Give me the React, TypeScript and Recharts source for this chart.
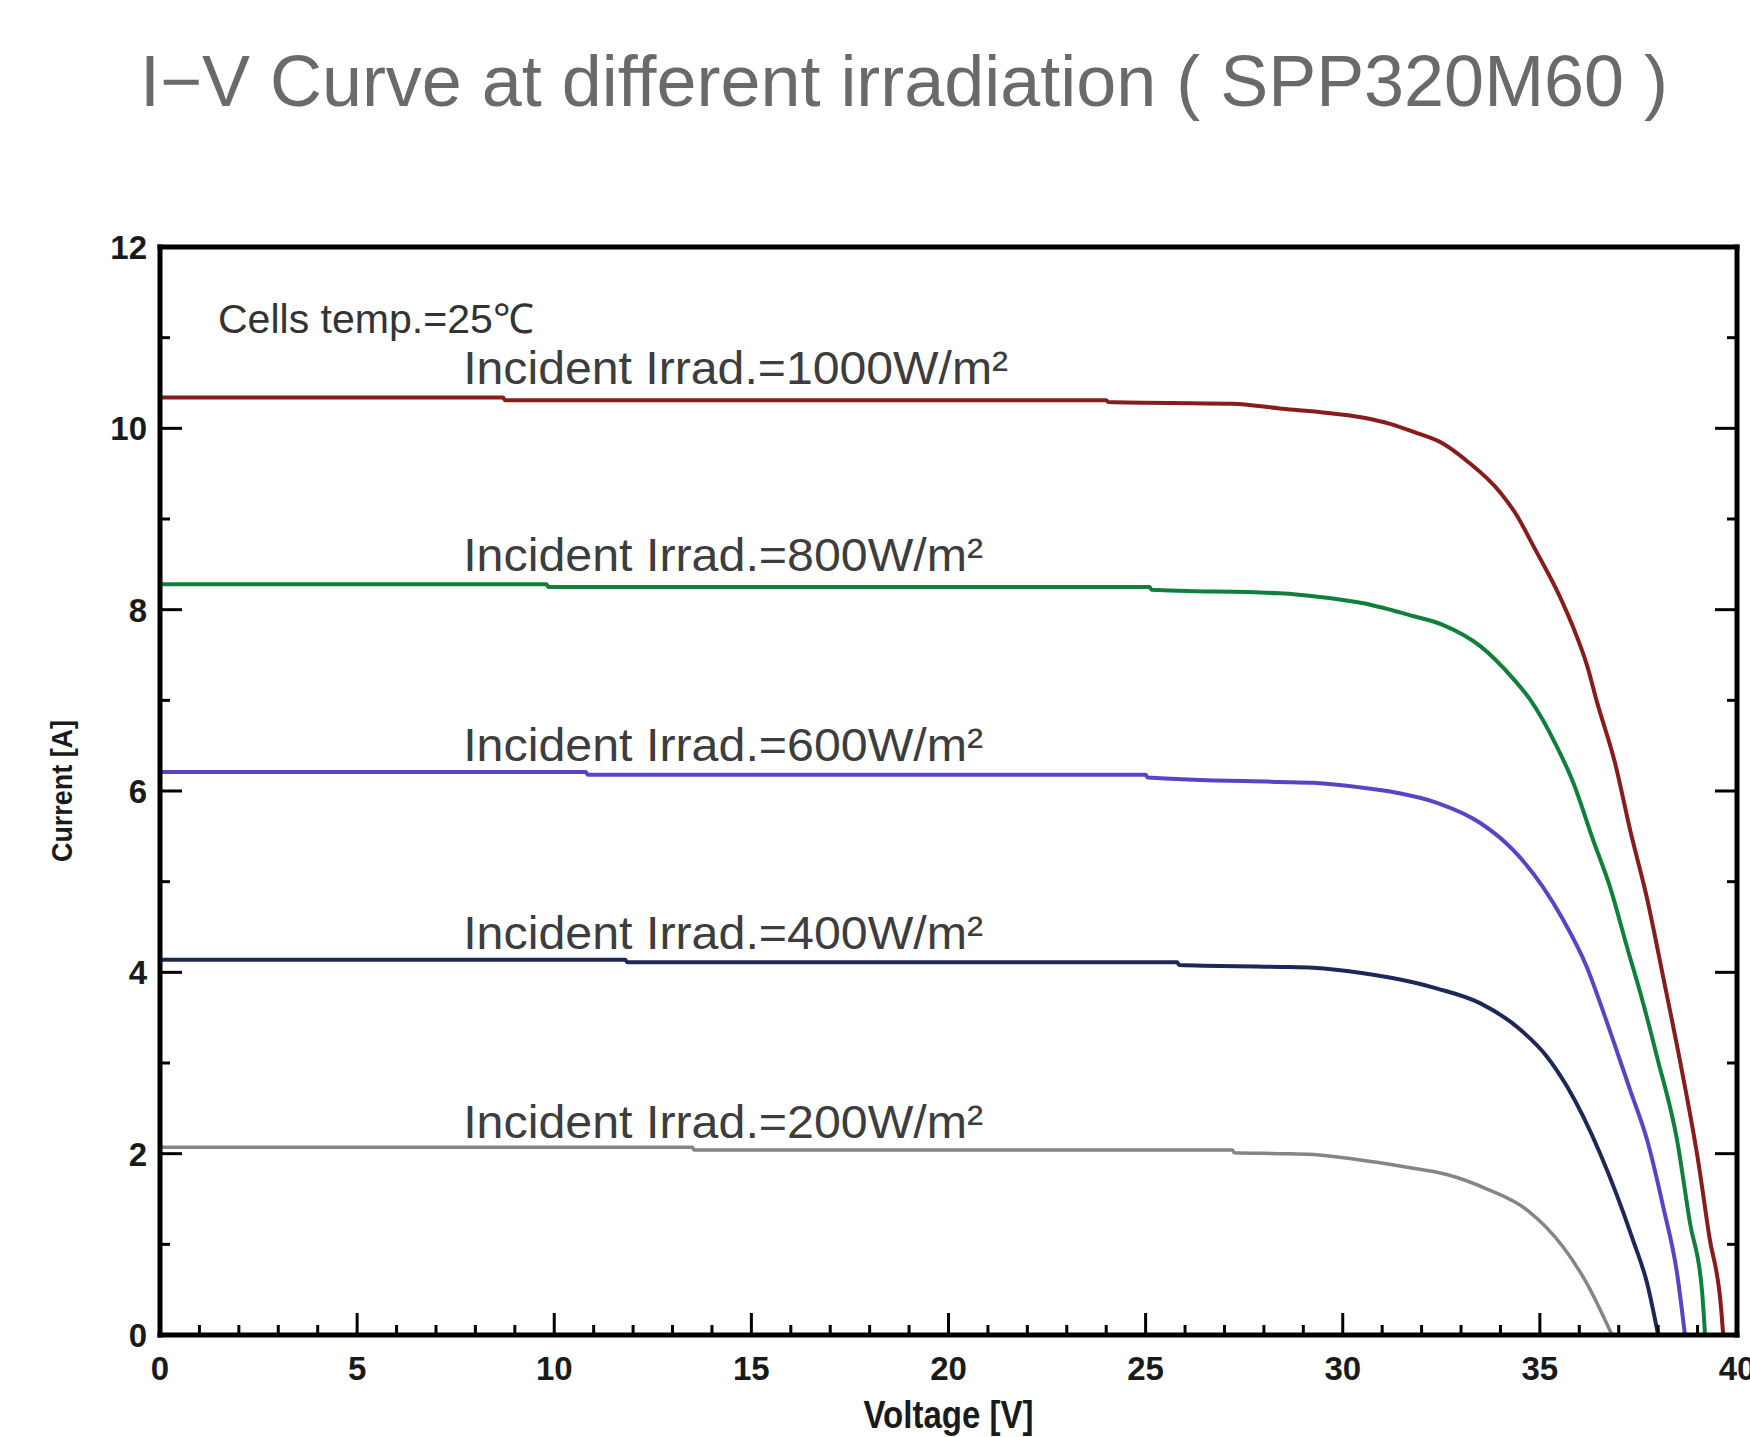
import React from "react";
import {
  ComposedChart,
  Line,
  XAxis,
  YAxis,
  ReferenceDot,
} from "recharts";

// voltage [V], current [A]
const curve1000: [number, number][] = [
  [0, 10.34], [8.7, 10.34], [8.75, 10.31], [24.0, 10.31], [24.05, 10.29],
  [27.2, 10.27], [28.4, 10.22], [29.4, 10.18], [30.5, 10.12], [31.2, 10.05],
  [31.8, 9.96], [32.55, 9.83], [33.15, 9.64], [34.0, 9.29], [34.4, 9.05],
  [34.85, 8.69], [35.5, 8.15], [35.85, 7.8], [36.2, 7.38], [36.45, 6.98],
  [36.9, 6.32], [37.3, 5.55], [37.7, 4.85], [38.15, 3.9], [38.6, 2.92],
  [39.0, 1.96], [39.3, 1.08], [39.6, 0.28], [39.65, 0],
];
const curve800: [number, number][] = [
  [0, 8.28], [9.8, 8.28], [9.85, 8.25], [25.1, 8.25], [25.15, 8.22],
  [28.4, 8.18], [29.42, 8.14], [30.52, 8.07], [31.78, 7.93], [32.55, 7.83],
  [33.48, 7.6], [34.32, 7.24], [34.75, 7.01], [35.43, 6.49], [35.84, 6.1],
  [36.35, 5.46], [36.78, 4.94], [37.21, 4.28], [37.62, 3.66], [37.97, 3.07],
  [38.48, 2.15], [38.81, 1.23], [39.11, 0.5], [39.19, 0],
];
const curve600: [number, number][] = [
  [0, 6.21], [10.8, 6.21], [10.85, 6.18], [25.0, 6.18], [25.05, 6.15],
  [28.4, 6.1], [29.25, 6.09], [30.44, 6.04], [31.37, 5.98], [32.39, 5.87],
  [33.48, 5.65], [34.32, 5.35], [35.08, 4.94], [35.59, 4.58], [36.19, 4.06],
  [36.58, 3.6], [36.86, 3.25], [37.29, 2.7], [37.72, 2.15], [38.13, 1.41],
  [38.48, 0.68], [38.68, 0],
];
const curve400: [number, number][] = [
  [0, 4.14], [11.8, 4.14], [11.85, 4.11], [25.8, 4.11], [25.85, 4.08],
  [28.4, 4.06], [29.25, 4.05], [30.52, 3.99], [31.78, 3.89], [32.4, 3.82],
  [33.48, 3.66], [34.5, 3.37], [35.18, 3.07], [35.69, 2.74], [36.53, 2.0],
  [37.36, 1.05], [37.72, 0.57], [38.0, 0],
];
const curve200: [number, number][] = [
  [0, 2.07], [13.5, 2.07], [13.55, 2.04], [27.2, 2.04], [27.25, 2.01],
  [28.4, 2.0], [29.25, 1.99], [30.27, 1.94], [31.63, 1.85], [32.64, 1.77],
  [33.66, 1.61], [34.67, 1.38], [35.59, 0.97], [36.19, 0.57], [36.83, 0],
];

const series = [
  { name: "1000W/m²", points: curve1000, color: "#861c1c", width: 4 },
  { name: "800W/m²", points: curve800, color: "#117f3c", width: 4 },
  { name: "600W/m²", points: curve600, color: "#5a44c6", width: 4 },
  { name: "400W/m²", points: curve400, color: "#1d2858", width: 4 },
  { name: "200W/m²", points: curve200, color: "#858585", width: 3.5 },
];

// label anchors in data units (start of the text baseline)
const irradLabels = [
  { v: 7.69, i: 10.49, text: "Incident Irrad.=1000W/m²" },
  { v: 7.69, i: 8.43, text: "Incident Irrad.=800W/m²" },
  { v: 7.69, i: 6.33, text: "Incident Irrad.=600W/m²" },
  { v: 7.69, i: 4.26, text: "Incident Irrad.=400W/m²" },
  { v: 7.69, i: 2.17, text: "Incident Irrad.=200W/m²" },
];
const tempLabel = { v: 1.47, i: 11.05, text: "Cells temp.=25℃" };

const voltageTicks = [
  0, 1, 2, 3, 4, 5, 6, 7, 8, 9, 10, 11, 12, 13, 14, 15, 16, 17, 18, 19, 20,
  21, 22, 23, 24, 25, 26, 27, 28, 29, 30, 31, 32, 33, 34, 35, 36, 37, 38, 39, 40,
];
const voltageLabels = [0, 5, 10, 15, 20, 25, 30, 35, 40];
const currentTicks = [0, 1, 2, 3, 4, 5, 6, 7, 8, 9, 10, 11, 12];
const currentLabels = [0, 2, 4, 6, 8, 10, 12];

const FONT = "'Liberation Sans', Arial, sans-serif";
const MAJOR = 22;
const MINOR = 10;

function BottomTick(props: any) {
  const { x, y, payload } = props;
  const major = voltageLabels.includes(payload.value);
  return (
    <g>
      <line x1={x} y1={y} x2={x} y2={y - (major ? MAJOR : MINOR)} stroke="#000" strokeWidth={3} />
      {major && (
        <text x={x} y={y + 45} textAnchor="middle" fontFamily={FONT} fontWeight="bold" fontSize={33} fill="#1a1a1a">
          {payload.value}
        </text>
      )}
    </g>
  );
}

function TopTick(props: any) {
  const { x, y, payload } = props;
  const major = voltageLabels.includes(payload.value);
  return <line x1={x} y1={y} x2={x} y2={y + (major ? MAJOR : MINOR)} stroke="#000" strokeWidth={3} />;
}

function LeftTick(props: any) {
  const { x, y, payload } = props;
  const major = currentLabels.includes(payload.value);
  return (
    <g>
      <line x1={x} y1={y} x2={x + (major ? MAJOR : MINOR)} y2={y} stroke="#000" strokeWidth={3} />
      {major && (
        <text x={x - 13} y={y + 12} textAnchor="end" fontFamily={FONT} fontWeight="bold" fontSize={33} fill="#1a1a1a">
          {payload.value}
        </text>
      )}
    </g>
  );
}

function RightTick(props: any) {
  const { x, y, payload } = props;
  const major = currentLabels.includes(payload.value);
  return <line x1={x} y1={y} x2={x - (major ? MAJOR : MINOR)} y2={y} stroke="#000" strokeWidth={3} />;
}

const axisLine = { stroke: "#000", strokeWidth: 5, strokeLinecap: "square" as const };

function makeText(text: string, size: number, length: number, fill: string) {
  return (props: any) => {
    const vb = props.viewBox || {};
    return (
      <text
        x={vb.x}
        y={vb.y}
        fontFamily={FONT}
        fontSize={size}
        fill={fill}
        textLength={length}
        lengthAdjust="spacingAndGlyphs"
      >
        {text}
      </text>
    );
  };
}

export default function App() {
  return (
    <div style={{ position: "absolute", left: 0, top: 0, width: 1750, height: 1437, background: "#fff" }}>
      <svg width={1750} height={200} style={{ position: "absolute", left: 0, top: 0 }}>
        <text
          x={140}
          y={106}
          fontFamily={FONT}
          fontSize={72}
          fill="#6a6a6a"
          textLength={1528}
          lengthAdjust="spacingAndGlyphs"
        >
          I−V Curve at different irradiation ( SPP320M60 )
        </text>
      </svg>
      <div style={{ position: "absolute", left: 0, top: 0 }}>
        <ComposedChart width={1750} height={1437} margin={{ top: 227, right: 0, bottom: 42, left: 60 }}>
          <XAxis
            xAxisId="bottom"
            type="number"
            dataKey="v"
            domain={[0, 40]}
            ticks={voltageTicks}
            interval={0}
            allowDataOverflow
            height={60}
            tickSize={0}
            tickMargin={0}
            tickLine={false}
            axisLine={axisLine}
            tick={<BottomTick />}
            label={{
              content: (p: any) => {
                const vb = p.viewBox || {};
                return (
                  <text
                    x={vb.x + vb.width / 2}
                    y={vb.y + 93}
                    textAnchor="middle"
                    fontFamily={FONT}
                    fontWeight="bold"
                    fontSize={38}
                    fill="#1a1a1a"
                    textLength={170}
                    lengthAdjust="spacingAndGlyphs"
                  >
                    Voltage [V]
                  </text>
                );
              },
            }}
          />
          <XAxis
            xAxisId="top"
            orientation="top"
            type="number"
            domain={[0, 40]}
            ticks={voltageTicks}
            interval={0}
            allowDataOverflow
            height={20}
            tickSize={0}
            tickMargin={0}
            tickLine={false}
            axisLine={axisLine}
            tick={<TopTick />}
          />
          <YAxis
            yAxisId="left"
            type="number"
            dataKey="i"
            domain={[0, 12]}
            ticks={currentTicks}
            interval={0}
            allowDataOverflow
            width={100}
            tickSize={0}
            tickMargin={0}
            tickLine={false}
            axisLine={axisLine}
            tick={<LeftTick />}
            label={{
              content: (p: any) => {
                const vb = p.viewBox || {};
                const cx = vb.x + 1;
                const cy = vb.y + vb.height / 2;
                return (
                  <text
                    x={cx}
                    y={cy}
                    transform={`rotate(-90 ${cx} ${cy})`}
                    textAnchor="middle"
                    dominantBaseline="central"
                    fontFamily={FONT}
                    fontWeight="bold"
                    fontSize={30}
                    fill="#1a1a1a"
                    textLength={142}
                    lengthAdjust="spacingAndGlyphs"
                  >
                    Current [A]
                  </text>
                );
              },
            }}
          />
          <YAxis
            yAxisId="right"
            orientation="right"
            type="number"
            domain={[0, 12]}
            ticks={currentTicks}
            interval={0}
            allowDataOverflow
            width={13}
            tickSize={0}
            tickMargin={0}
            tickLine={false}
            axisLine={axisLine}
            tick={<RightTick />}
          />
          {series.map((s) => (
            <Line
              key={s.name}
              xAxisId="bottom"
              yAxisId="left"
              data={s.points.map(([v, i]) => ({ v, i }))}
              dataKey="i"
              type="monotoneX"
              stroke={s.color}
              strokeWidth={s.width}
              dot={false}
              activeDot={false}
              isAnimationActive={false}
            />
          ))}
          <ReferenceDot
            xAxisId="bottom"
            yAxisId="left"
            x={tempLabel.v}
            y={tempLabel.i}
            r={0}
            ifOverflow="visible"
            label={{ content: makeText(tempLabel.text, 41, 316, "#333") }}
          />
          {irradLabels.map((l) => (
            <ReferenceDot
              key={l.text}
              xAxisId="bottom"
              yAxisId="left"
              x={l.v}
              y={l.i}
              r={0}
              ifOverflow="visible"
              label={{ content: makeText(l.text, 46, l.text.length > 23 ? 545 : 520, "#3d3d3d") }}
            />
          ))}
        </ComposedChart>
      </div>
    </div>
  );
}
